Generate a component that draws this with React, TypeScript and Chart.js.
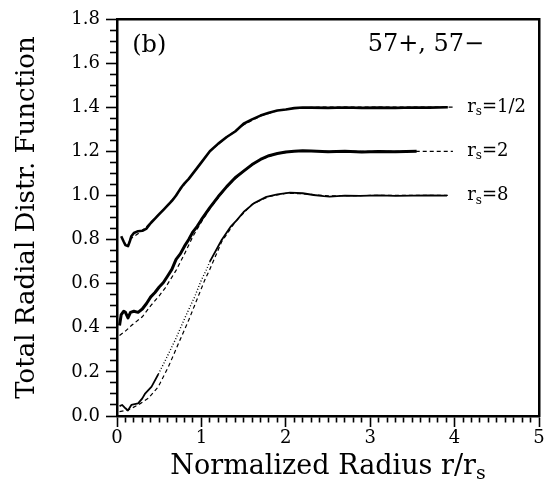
import React, { useEffect, useRef } from 'react';
import { Chart, registerables } from 'chart.js';

Chart.register(...registerables);

// r_s = 1/2 (simulation, shifted +0.4)
const HALF_X = [0.05,0.08,0.1,0.13,0.15,0.17,0.2,0.25,0.3,0.35,0.4,0.45,0.5,0.55,0.6,0.65,0.7,0.75,0.8,0.85,0.9,0.95,1.0,1.1,1.2,1.3,1.4,1.5,1.6,1.7,1.8,1.9,2.0,2.1,2.2,2.3,2.5,2.7,2.9,3.1,3.3,3.5,3.7,3.92];
const HALF_Y = [0.815,0.79,0.775,0.77,0.79,0.815,0.83,0.838,0.84,0.85,0.875,0.895,0.915,0.935,0.955,0.975,1.0,1.03,1.055,1.075,1.1,1.125,1.15,1.2,1.235,1.265,1.29,1.325,1.345,1.362,1.375,1.385,1.39,1.396,1.399,1.398,1.397,1.399,1.397,1.398,1.397,1.399,1.398,1.40];
const HALF_TH_X = [0.15,0.3,0.5,0.7,0.9,1.1,1.3,1.5,1.7,1.9,2.1,2.4,2.8,3.2,3.6,4.0];
const HALF_TH_Y = [0.8,0.84,0.915,1.0,1.1,1.2,1.265,1.32,1.36,1.385,1.396,1.4,1.4,1.4,1.4,1.4];

// r_s = 2 (shifted +0.2)
const TWO_X = [0.03,0.05,0.08,0.1,0.13,0.16,0.2,0.25,0.3,0.35,0.4,0.45,0.5,0.55,0.6,0.65,0.7,0.75,0.8,0.85,0.9,0.95,1.0,1.1,1.2,1.3,1.4,1.5,1.6,1.7,1.8,1.9,2.0,2.1,2.2,2.3,2.5,2.7,2.9,3.1,3.3,3.55];
const TWO_Y = [0.41,0.46,0.475,0.47,0.445,0.47,0.475,0.47,0.485,0.51,0.54,0.56,0.585,0.605,0.635,0.665,0.71,0.735,0.77,0.80,0.835,0.86,0.89,0.945,0.995,1.04,1.08,1.11,1.14,1.163,1.18,1.19,1.197,1.2,1.203,1.201,1.198,1.2,1.197,1.199,1.198,1.2];
const TWO_TH_X = [0.03,0.1,0.17,0.3,0.4,0.5,0.57,0.7,0.8,0.9,1.0,1.1,1.3,1.5,1.7,1.9,2.1,2.4,2.8,3.2,3.55,3.98];
const TWO_TH_Y = [0.365,0.385,0.41,0.45,0.5,0.545,0.58,0.66,0.735,0.815,0.88,0.94,1.04,1.11,1.163,1.19,1.2,1.2,1.2,1.2,1.2,1.2];

// r_s = 8 (no shift)
const EIGHT_X = [0.03,0.06,0.1,0.13,0.17,0.25,0.3,0.33,0.41,0.49,0.57,0.69,0.81,0.92,1.0,1.05,1.1,1.24,1.35,1.42,1.5,1.62,1.7,1.77,1.9,2.05,2.2,2.33,2.45,2.52,2.7,2.88,3.1,3.3,3.5,3.7,3.91];
const EIGHT_Y = [0.045,0.05,0.035,0.025,0.05,0.057,0.08,0.1,0.133,0.19,0.25,0.345,0.45,0.54,0.617,0.655,0.70,0.798,0.86,0.888,0.925,0.964,0.98,0.994,1.005,1.013,1.01,1.002,0.997,0.995,0.999,0.998,1.0,0.998,0.999,1.0,0.999];
const EIGHT_TH_X = [0.03,0.13,0.25,0.37,0.49,0.61,0.73,0.85,0.96,1.04,1.1,1.24,1.4,1.6,1.8,2.0,2.2,2.5,3.0,3.5,3.95];
const EIGHT_TH_Y = [0.02,0.027,0.05,0.08,0.133,0.224,0.33,0.435,0.54,0.617,0.665,0.79,0.88,0.96,0.995,1.01,1.008,0.998,1.0,1.0,1.0];

const CURVE_LABELS = ['1/2', '2', '8'];
const CURVE_LABEL_Y = [1.4, 1.2, 1.0];
const PANEL_LABEL = '(b)';
const SYSTEM_LABEL = '57+, 57\u2212';
const X_TITLE = 'Normalized Radius r/r';
const X_TITLE_SUB = 's';
const Y_TITLE = 'Total Radial Distr. Function';

const FONT = '"DejaVu Serif", serif';

const pts = (xs: number[], ys: number[]) => xs.map((x, i) => ({ x, y: ys[i] }));
const isMajor = (v: number, step: number) => Math.abs(v / step - Math.round(v / step)) < 1e-6;

const annotPlugin = {
  id: 'annot',
  afterDraw(chart: any) {
    const { ctx, scales } = chart;
    const x = scales.x, y = scales.y;
    ctx.save();
    ctx.fillStyle = '#000';
    ctx.textBaseline = 'middle';
    ctx.textAlign = 'left';
    ctx.font = `24px ${FONT}`;
    ctx.fillText(PANEL_LABEL, x.getPixelForValue(0.18), y.getPixelForValue(1.68));
    ctx.fillText(SYSTEM_LABEL, x.getPixelForValue(2.97), y.getPixelForValue(1.685));
    CURVE_LABELS.forEach((lab, i) => {
      let px = x.getPixelForValue(4.15);
      const py = y.getPixelForValue(CURVE_LABEL_Y[i]);
      ctx.font = `18px ${FONT}`;
      ctx.fillText('r', px, py);
      px += ctx.measureText('r').width;
      ctx.font = `12px ${FONT}`;
      ctx.fillText('s', px, py + 5);
      px += ctx.measureText('s').width;
      ctx.font = `18px ${FONT}`;
      ctx.fillText('=' + lab, px, py);
    });
    // x-axis title with subscript
    ctx.textBaseline = 'alphabetic';
    ctx.font = `27px ${FONT}`;
    const w1 = ctx.measureText(X_TITLE).width;
    ctx.font = `19px ${FONT}`;
    const w2 = ctx.measureText(X_TITLE_SUB).width;
    const cx = (chart.chartArea.left + chart.chartArea.right) / 2;
    const sx = cx - (w1 + w2) / 2;
    ctx.font = `27px ${FONT}`;
    ctx.fillText(X_TITLE, sx, 474);
    ctx.font = `19px ${FONT}`;
    ctx.fillText(X_TITLE_SUB, sx + w1, 479);
    ctx.restore();
  },
};

export default function App() {
  const ref = useRef<HTMLCanvasElement>(null);
  useEffect(() => {
    if (!ref.current) return;
    const solid = (data: any, width: number, extra: any = {}) => ({
      data, borderColor: '#000', borderWidth: width, pointRadius: 0, tension: 0,
      showLine: true, fill: false, borderJoinStyle: 'round', ...extra,
    });
    const dashed = (data: any) => ({
      data, borderColor: '#000', borderWidth: 1.2, pointRadius: 0, tension: 0,
      showLine: true, fill: false, borderDash: [4, 3],
    });
    const tickFont = { family: FONT, size: 18 };
    const chart = new Chart(ref.current, {
      type: 'scatter',
      data: {
        datasets: [
          solid(pts(HALF_X, HALF_Y), 2.6),
          solid(pts(TWO_X, TWO_Y), 3),
          solid(pts(EIGHT_X, EIGHT_Y), 1.8, {
            borderCapStyle: 'butt',
            segment: {
              borderDash: (c: any) => (c.p0.parsed.x >= 0.49 && c.p1.parsed.x <= 1.1 ? [1, 2] : undefined),
              borderWidth: (c: any) => (c.p0.parsed.x >= 0.49 && c.p1.parsed.x <= 1.1 ? 1.4 : undefined),
            },
          }),
          dashed(pts(HALF_TH_X, HALF_TH_Y)),
          dashed(pts(TWO_TH_X, TWO_TH_Y)),
          dashed(pts(EIGHT_TH_X, EIGHT_TH_Y)),
        ] as any,
      },
      options: {
        animation: false,
        responsive: false,
        events: [],
        layout: { padding: 0 },
        plugins: { legend: { display: false }, tooltip: { enabled: false } },
        scales: {
          x: {
            type: 'linear', position: 'bottom', min: 0, max: 5,
            afterFit: (s: any) => { s.height = 67; },
            ticks: {
              stepSize: 0.1, autoSkip: false, maxRotation: 0, minRotation: 0, padding: 1,
              color: '#000', font: tickFont,
              callback: (v: any) => (isMajor(v, 1) ? String(Math.round(v)) : ''),
            },
            grid: {
              drawOnChartArea: false, drawTicks: true, tickLength: 11, tickWidth: 1.6, tickColor: '#000',
              tickBorderDash: (c: any) => (c.tick && isMajor(c.tick.value, 1) ? [] : [5, 100]),
              tickBorderDashOffset: 0,
            },
            border: { display: true, color: '#000', width: 2.5 },
          },
          x2: {
            type: 'linear', position: 'top', min: 0, max: 5, display: true,
            afterFit: (s: any) => { s.height = 19; },
            ticks: { display: false },
            grid: { display: false, drawTicks: false },
            border: { display: true, color: '#000', width: 2.5 },
          },
          y: {
            type: 'linear', position: 'left', min: 0, max: 1.8,
            afterFit: (s: any) => { s.width = 117; },
            ticks: {
              stepSize: 0.05, autoSkip: false, padding: 6, color: '#000', font: tickFont,
              callback: (v: any) => (isMajor(v, 0.2) ? Number(v).toFixed(1) : ''),
            },
            grid: {
              drawOnChartArea: false, drawTicks: true, tickLength: 11, tickWidth: 1.6, tickColor: '#000',
              tickBorderDash: (c: any) => (c.tick && isMajor(c.tick.value, 0.2) ? [] : [6, 100]),
              tickBorderDashOffset: (c: any) => (c.tick && isMajor(c.tick.value, 0.2) ? 0 : -4),
            },
            border: { display: true, color: '#000', width: 2.5 },
            title: {
              display: true, text: Y_TITLE, color: '#000',
              font: { family: FONT, size: 26 }, padding: { top: 12, bottom: 0 },
            },
          },
          y2: {
            type: 'linear', position: 'right', min: 0, max: 1.8, display: true,
            afterFit: (s: any) => { s.width = 10; },
            ticks: { display: false },
            grid: { display: false, drawTicks: false },
            border: { display: true, color: '#000', width: 2.5 },
          },
        },
      } as any,
      plugins: [annotPlugin],
    });
    return () => chart.destroy();
  }, []);
  return (
    <div style={{ position: 'absolute', left: 0, top: 0, width: 549, height: 483, background: '#fff' }}>
      <canvas ref={ref} width={549} height={483} />
    </div>
  );
}
